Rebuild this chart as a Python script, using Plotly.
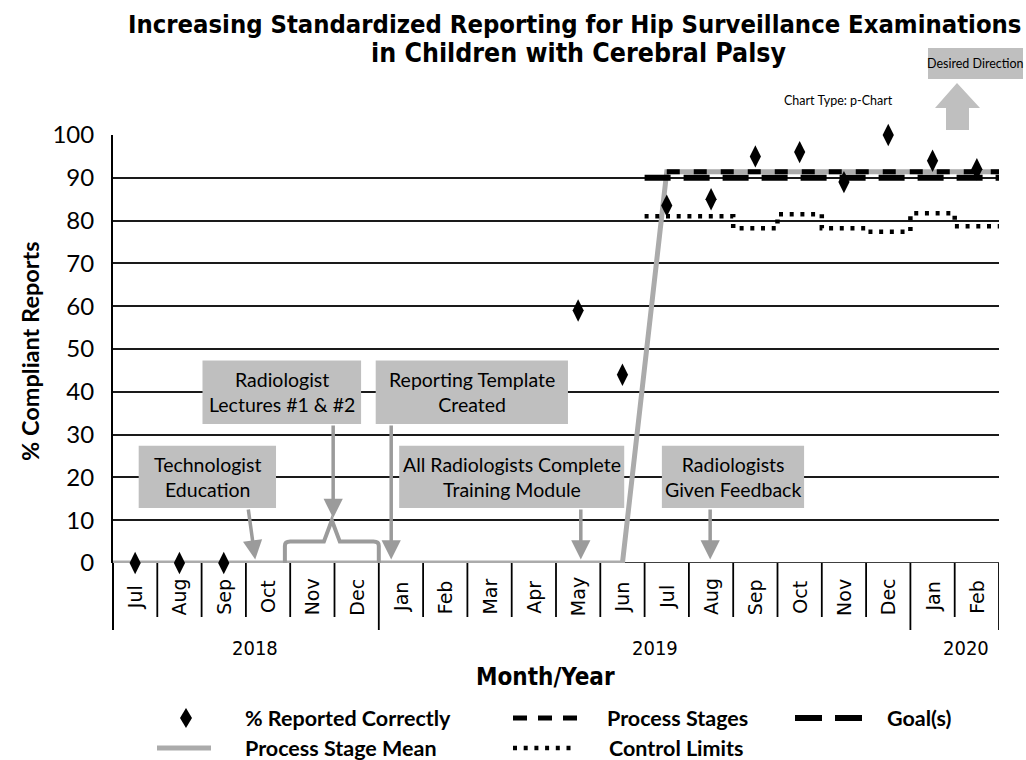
import plotly.graph_objects as go

# ---------------- data ----------------
months = ["Jul", "Aug", "Sep", "Oct", "Nov", "Dec", "Jan", "Feb", "Mar", "Apr",
          "May", "Jun", "Jul", "Aug", "Sep", "Oct", "Nov", "Dec", "Jan", "Feb"]
years = ["2018", "2019", "2020"]
year_label_pos = [2.7, 11.73, 18.75]
year_breaks = [-0.5, 5.5, 17.5, 19.5]
pct_correct = [0, 0, 0, None, None, None, None, None, None, None,
               59, 44, 83.5, 85, 95, 96, 89, 100, 94, 92]
stage_mean = [0] * 12 + [91.4] * 8
goal_value = 90
lower_limit = [None] * 12 + [81, 81, 78.2, 81.5, 78.2, 77.4, 81.7, 78.7]

n = len(months)
xs = list(range(n))

W, H = 1026, 760
# plot area in window pixels
L, R, T, B = 113, 999, 135, 563
def px(x):
    return (x - L) / (R - L)
def py(y):
    return (B - y) / (B - T)

GRAY_LINE = "#ababab"
GRAY_BOX = "#bfbfbf"
GRAY_ARROW = "#9b9b9b"
REG = "Lato"
COND = "DejaVu Sans Condensed, Lato"

fig = go.Figure()

# process stage mean (gray)
stage2_start = 12
mx = [-0.5] + xs + [n - 0.5]
my = [stage_mean[0]] + stage_mean + [stage_mean[-1]]
fig.add_trace(go.Scatter(x=mx, y=my, mode="lines",
                         line=dict(color=GRAY_LINE, width=5), hoverinfo="skip",
                         showlegend=False))

# goal (long dash)
fig.add_trace(go.Scatter(x=[stage2_start - 0.5, n - 0.5], y=[goal_value, goal_value],
                         mode="lines", line=dict(color="black", width=6, dash="26px,13px"),
                         showlegend=False, hoverinfo="skip"))

# process stage centre line (short dash)
fig.add_trace(go.Scatter(x=[stage2_start, n - 0.5],
                         y=[stage_mean[stage2_start], stage_mean[-1]],
                         mode="lines", line=dict(color="black", width=5, dash="13px,14px"),
                         showlegend=False, hoverinfo="skip"))

# control limits (dotted step)
lx = [i - 0.5 for i in range(stage2_start, n + 1)]
ly = lower_limit[stage2_start:] + [lower_limit[-1]]
fig.add_trace(go.Scatter(x=lx, y=ly, mode="lines", line_shape="hv",
                         line=dict(color="black", width=4.5, dash="4px,6.7px"),
                         showlegend=False, hoverinfo="skip"))

# points
fig.add_trace(go.Scatter(x=xs, y=pct_correct, mode="markers",
                         marker=dict(symbol="diamond-tall", size=16, color="black"),
                         showlegend=False, cliponaxis=False))

shapes = []
annotations = []

def ann(**kw):
    kw.setdefault("showarrow", False)
    kw.setdefault("xanchor", "center")
    kw.setdefault("yanchor", "middle")
    annotations.append(kw)

# zero line + separators
shapes.append(dict(type="line", xref="x", yref="y", x0=-0.5, x1=n - 0.5, y0=0, y1=0,
                   line=dict(color="black", width=1.5), layer="below"))
for i in range(n + 1):
    b = i - 0.5
    long = b in year_breaks
    shapes.append(dict(type="line", xref="x", yref="paper", x0=b, x1=b, y0=0,
                       y1=py(630) if long else py(617),
                       line=dict(color="black", width=1.8)))

# month labels
for i, m in enumerate(months):
    ann(x=i, y=py(597), xref="x", yref="paper", text=m, textangle=-90,
        font=dict(family="DejaVu Sans", size=19, color="black"))
for yl, yp in zip(years, year_label_pos):
    ann(x=yp, y=py(648), xref="x", yref="paper", text=yl,
        font=dict(family=COND, size=20, color="black"))
ann(x=px(545), y=py(677), xref="paper", yref="paper", text="<b>Month/Year</b>",
    font=dict(family=COND, size=24, color="black"))
ann(x=px(30), y=py(351), xref="paper", yref="paper", text="<b>% Compliant Reports</b>",
    textangle=-90, font=dict(family=REG, size=23.5, color="black"))

# title (two lines)
ann(x=px(574), y=py(24), xref="paper", yref="paper",
    text="<b>Increasing Standardized Reporting for Hip Surveillance Examinations</b>",
    font=dict(family=COND, size=25.4, color="black"))
ann(x=px(579), y=py(53), xref="paper", yref="paper",
    text="<b>in Children with Cerebral Palsy</b>",
    font=dict(family=COND, size=26.5, color="black"))

# intervention boxes (data coords)
boxes = [
    ("Technologist<br>Education", 0.08, 3.18, 12.85, 27.4),
    ("Radiologist<br>Lectures #1 &amp; #2", 1.52, 5.1, 32.5, 47.3),
    ("Reporting Template<br>Created", 5.43, 9.77, 32.5, 47.3),
    ("All Radiologists Complete<br>Training Module", 5.96, 11.04, 12.85, 27.4),
    ("Radiologists<br>Given Feedback", 11.89, 15.1, 12.85, 27.4),
]
for text, x0, x1, y0, y1 in boxes:
    shapes.append(dict(type="rect", xref="x", yref="y", x0=x0, x1=x1, y0=y0, y1=y1,
                       fillcolor=GRAY_BOX, line=dict(width=0), layer="above"))
    ann(x=(x0 + x1) / 2, y=(y0 + y1) / 2, xref="x", yref="y", text=text,
        font=dict(family=REG, size=19.5, color="black"))

arrows = [
    (2.55, 12.85, 2.71, 0.8),
    (4.47, 32.5, 4.47, 10.5),
    (5.78, 32.5, 5.78, 0.8),
    (10.06, 12.85, 10.06, 0.8),
    (12.98, 12.85, 12.98, 0.8),
]
for ax_, ay_, x_, y_ in arrows:
    annotations.append(dict(x=x_, y=y_, ax=ax_, ay=ay_, xref="x", yref="y",
                            axref="x", ayref="y", text="", showarrow=True,
                            arrowhead=2, arrowsize=1.1, arrowwidth=3.5,
                            arrowcolor=GRAY_ARROW))

# brace
shapes.append(dict(type="path", xref="x", yref="y",
                   path="M 3.38,0 L 3.38,4 Q 3.38,5 3.5,5 L 4.26,5 L 4.44,10 L 4.62,5 "
                        "L 5.38,5 Q 5.5,5 5.5,4 L 5.5,0",
                   line=dict(color=GRAY_ARROW, width=4), layer="above"))

# chart type & desired direction
ann(x=px(838), y=py(101), xref="paper", yref="paper", text="Chart Type: p-Chart",
    font=dict(family=REG, size=12.5, color="black"))
shapes.append(dict(type="rect", xref="paper", yref="paper", x0=px(928), x1=px(1023),
                   y0=py(79), y1=py(48), fillcolor=GRAY_BOX, line=dict(width=0)))
ann(x=px(975.5), y=py(63.5), xref="paper", yref="paper", text="Desired Direction",
    font=dict(family=REG, size=12.5, color="black"))
arrow_pts = [(946, 130), (946, 108), (935, 108), (957, 83), (980, 108), (969, 108), (969, 130)]
path = "M " + " L ".join(f"{px(a):.5f},{py(b):.5f}" for a, b in arrow_pts) + " Z"
shapes.append(dict(type="path", xref="paper", yref="paper", path=path,
                   fillcolor=GRAY_BOX, line=dict(width=0)))

# legend (decorative)
dpath = (f"M {px(186):.5f},{py(708):.5f} L {px(192):.5f},{py(718):.5f} "
         f"L {px(186):.5f},{py(728):.5f} L {px(180):.5f},{py(718):.5f} Z")
shapes.append(dict(type="path", xref="paper", yref="paper", path=dpath,
                   fillcolor="black", line=dict(width=0)))
shapes.append(dict(type="line", xref="paper", yref="paper", x0=px(157), x1=px(211),
                   y0=py(748), y1=py(748), line=dict(color=GRAY_LINE, width=5)))
shapes.append(dict(type="line", xref="paper", yref="paper", x0=px(513), x1=px(578),
                   y0=py(718), y1=py(718), line=dict(color="black", width=5, dash="14px,11px")))
shapes.append(dict(type="line", xref="paper", yref="paper", x0=px(795), x1=px(862),
                   y0=py(718), y1=py(718), line=dict(color="black", width=6, dash="27px,13px")))
shapes.append(dict(type="line", xref="paper", yref="paper", x0=px(513), x1=px(577),
                   y0=py(748), y1=py(748), line=dict(color="black", width=4.5, dash="4px,6.7px")))
legend_text = [("% Reported Correctly", 243, 718), ("Process Stage Mean", 243, 748),
               ("Process Stages", 605, 718), ("Control Limits", 607, 748),
               ("Goal(s)", 885, 718)]
for t, x_, y_ in legend_text:
    ann(x=px(x_), y=py(y_), xref="paper", yref="paper", text=f"<b>{t}</b>",
        xanchor="left", font=dict(family=REG, size=21.5, color="black"))

# y axis line extension below the plot
shapes.append(dict(type="line", xref="paper", yref="paper", x0=0, x1=0, y0=0, y1=py(630),
                   line=dict(color="black", width=2)))

fig.update_layout(
    width=W, height=H,
    margin=dict(l=L, r=W - R, t=T, b=H - B, pad=0),
    plot_bgcolor="white", paper_bgcolor="white",
    shapes=shapes, annotations=annotations,
    xaxis=dict(range=[-0.5, n - 0.5], showgrid=False, zeroline=False,
               showticklabels=False, showline=False, ticks=""),
    yaxis=dict(range=[0, 100], tickvals=list(range(0, 101, 10)),
               showgrid=True, gridcolor="#1a1a1a", gridwidth=1.5,
               zeroline=False, showline=True, linecolor="black", linewidth=2,
               ticks="", ticklabelstandoff=12,
               tickfont=dict(family=REG, size=24, color="black")),
)

fig.write_html("out.html", config={"displayModeBar": False},
               post_script="document.body.style.margin='0';"
                           "document.body.style.overflow='hidden';")
